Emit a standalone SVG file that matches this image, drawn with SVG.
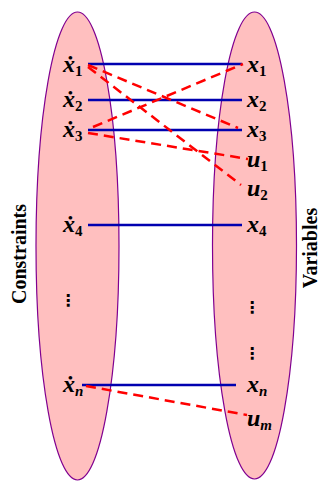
<svg xmlns="http://www.w3.org/2000/svg" width="322" height="481" viewBox="0 0 322 481">
<style>
.set{fill:#ffbfbf;stroke:#800090;stroke-width:1.2}
.m{font-family:"Liberation Serif","DejaVu Serif",serif;font-weight:bold;font-style:italic;font-size:24px;fill:#000}
.s{font-size:15px}
.d{font-style:normal}
.t{font-family:"Liberation Serif",serif;font-weight:bold;font-size:20px;fill:#000}
.v{font-family:"DejaVu Sans",sans-serif;font-weight:bold;font-size:16px;fill:#000}
.b{stroke:#0000b0;stroke-width:2.5;fill:none}
.r{stroke:#ff0000;stroke-width:2.5;fill:none;stroke-dasharray:10,6}
</style>
<g id="constraints-set"><ellipse class="set" cx="77.5" cy="246" rx="41.5" ry="234"/></g>
<g id="variables-set"><ellipse class="set" cx="254.5" cy="245.5" rx="42" ry="233.5"/></g>
<g id="title-constraints"><text class="t" transform="translate(26,254) rotate(-90)" text-anchor="middle">Constraints</text></g>
<g id="title-variables"><text class="t" transform="translate(316.5,248) rotate(-90)" text-anchor="middle">Variables</text></g>
<g id="connectors">
<line class="b" x1="88" y1="64" x2="242" y2="64"/>
<line class="b" x1="88" y1="100" x2="242" y2="100"/>
<line class="b" x1="88" y1="130" x2="242" y2="130"/>
<line class="b" x1="88" y1="225" x2="242" y2="225"/>
<line class="b" x1="82" y1="385" x2="236" y2="385"/>
<line class="r" x1="88" y1="65" x2="238" y2="128"/>
<line class="r" x1="88" y1="67" x2="241" y2="185"/>
<line class="r" x1="93" y1="127" x2="243" y2="64"/>
<line class="r" x1="88" y1="133" x2="248" y2="159"/>
<line class="r" x1="86" y1="386" x2="247" y2="415"/>
</g>
<g id="c1"><text class="m" x="63" y="72">ẋ<tspan class="s d" dy="4">1</tspan></text></g>
<g id="c2"><text class="m" x="63" y="107">ẋ<tspan class="s d" dy="4">2</tspan></text></g>
<g id="c3"><text class="m" x="63" y="137">ẋ<tspan class="s d" dy="4">3</tspan></text></g>
<g id="c4"><text class="m" x="63" y="232">ẋ<tspan class="s d" dy="4">4</tspan></text></g>
<g id="c-dots"><text class="v" x="60" y="306">⋮</text></g>
<g id="cn"><text class="m" x="63" y="392">ẋ<tspan class="s" dy="4">n</tspan></text></g>
<g id="v1"><text class="m" x="247" y="72">x<tspan class="s d" dy="4">1</tspan></text></g>
<g id="v2"><text class="m" x="247" y="107">x<tspan class="s d" dy="4">2</tspan></text></g>
<g id="v3"><text class="m" x="247" y="137">x<tspan class="s d" dy="4">3</tspan></text></g>
<g id="u1"><text class="m" x="247" y="167">u<tspan class="s d" dy="4">1</tspan></text></g>
<g id="u2"><text class="m" x="247" y="196">u<tspan class="s d" dy="4">2</tspan></text></g>
<g id="v4"><text class="m" x="247" y="232">x<tspan class="s d" dy="4">4</tspan></text></g>
<g id="v-dots1"><text class="v" x="244" y="313">⋮</text></g>
<g id="v-dots2"><text class="v" x="244" y="359">⋮</text></g>
<g id="vn"><text class="m" x="247" y="392">x<tspan class="s" dy="4">n</tspan></text></g>
<g id="um"><text class="m" x="247" y="426">u<tspan class="s" dy="4">m</tspan></text></g>
</svg>
